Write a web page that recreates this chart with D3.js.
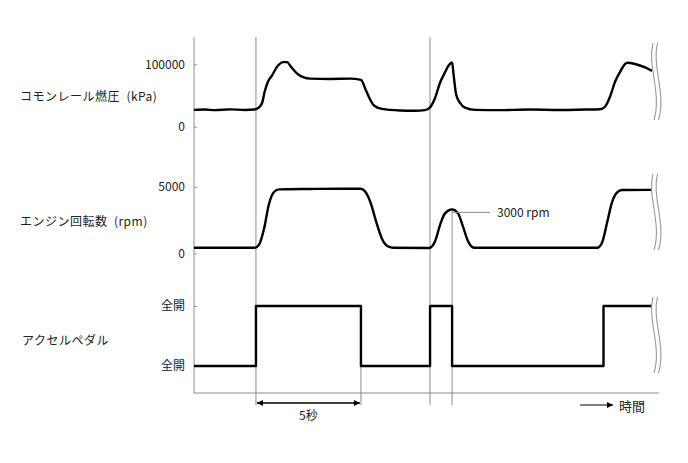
<!DOCTYPE html>
<html>
<head>
<meta charset="utf-8">
<script src="https://cdn.jsdelivr.net/npm/d3@7"></script>
<style>
  body { margin: 0; background: #fff; }
  text { font-family: "Noto Sans CJK JP", "Noto Sans", sans-serif; fill: #222; }
</style>
</head>
<body>
<svg id="chart" width="688" height="463"></svg>
<script>
"use strict";

// temps en secondes
var fuelT = [0, 0.52, 1.0, 1.71, 2.43, 2.86, 3.1, 3.24, 3.38, 3.52, 3.71, 4.0, 4.24, 4.43, 4.62, 4.95, 5.52, 6.48, 7.43, 7.95, 8.19, 8.38, 8.57, 8.95, 9.81, 10.52, 11.0, 11.24, 11.48, 11.71, 11.95, 12.14, 12.29, 12.36, 12.48, 12.67, 12.9, 13.38, 14.57, 16.0, 17.43, 18.62, 19.33, 19.57, 19.81, 20.05, 20.29, 20.62, 21.0, 21.48, 21.81];
var fuelV = [27000, 27500, 26500, 27800, 26800, 27500, 31000, 38000, 58000, 72000, 82000, 98000, 103500, 103500, 96000, 84000, 77000, 76500, 77000, 75000, 58000, 44000, 34000, 28500, 26000, 25500, 26500, 31000, 46000, 70000, 87000, 99000, 103000, 84000, 52000, 38000, 30500, 27000, 26500, 27500, 26800, 27500, 28000, 32000, 48000, 72000, 88000, 102500, 100500, 95000, 89500];

var rpmT = [0, 2.9, 3.1, 3.33, 3.57, 3.81, 4.05, 5.5, 7.0, 7.95, 8.14, 8.43, 8.67, 8.95, 9.24, 9.5, 11.2, 11.48, 11.71, 11.95, 12.29, 12.57, 12.81, 13.05, 13.33, 19.2, 19.43, 19.67, 19.9, 20.14, 20.38, 21.81];
var rpmV = [420, 420, 650, 1800, 3700, 4600, 4800, 4830, 4850, 4850, 4650, 3700, 2400, 1100, 520, 420, 400, 900, 2100, 3000, 3300, 3000, 2000, 900, 420, 420, 800, 2300, 3800, 4550, 4750, 4760];

var pedalT = [0, 2.95, 7.95, 11.24, 12.29, 19.5, 21.81];
var pedalV = [0, 100, 0, 100, 0, 100, 100];

var fuelTicks = [0, 100000];
var rpmTicks = [0, 5000];
var pedalTicks = [0, 100];
var pedalTickLabels = ["全開", "全開"];

var panelLabels = ["コモンレール燃圧 (kPa)", "エンジン回転数 (rpm)", "アクセルペダル"];
var peakLabel = "3000 rpm";
var spanLabel = "5秒";
var timeLabel = "時間";

// ---------------------------------------------------------------
var svg = d3.select("#chart");
var gray = "#8c8c8c";

var axisX = 194, axisTop = 37, axisBottom = 393;

var x = d3.scaleLinear().domain([0, 22]).range([194, 656]);
var yFuel = d3.scaleLinear().domain([0, 100000]).range([126.7, 64.3]);
var yRpm = d3.scaleLinear().domain([0, 5000]).range([253.3, 186.7]);
var yPedal = d3.scaleLinear().domain([0, 100]).range([366, 306]);

// lignes de repère
var guides = [
  { t: pedalT[1], top: axisTop },
  { t: pedalT[2], top: yPedal(0) },
  { t: pedalT[3], top: axisTop },
  { t: pedalT[4], top: yRpm(3300) }
];
svg.append("g").selectAll("line")
  .data(guides)
  .enter()
  .append("line")
    .attr("x1", function(d) { return x(d.t); })
    .attr("x2", function(d) { return x(d.t); })
    .attr("y1", function(d) { return d.top; })
    .attr("y2", 405)
    .attr("stroke", gray)
    .attr("stroke-width", 1);

// axe vertical et ligne du bas
svg.append("line")
  .attr("x1", axisX).attr("x2", axisX)
  .attr("y1", axisTop).attr("y2", axisBottom)
  .attr("stroke", gray);
svg.append("line")
  .attr("x1", axisX).attr("x2", 659)
  .attr("y1", axisBottom).attr("y2", axisBottom)
  .attr("stroke", gray);

function drawAxis(scale, ticks, fmt) {
  var g = svg.append("g")
    .attr("transform", "translate(" + axisX + ",0)")
    .call(d3.axisLeft(scale).tickValues(ticks).tickSize(3).tickPadding(6).tickFormat(fmt));
  g.select(".domain").remove();
  g.selectAll(".tick line").attr("x2", 3).attr("stroke", gray);
  g.selectAll(".tick text")
    .attr("font-size", 12)
    .attr("fill", "#222")
    .style("font-family", "'Noto Sans CJK JP', sans-serif");
}
drawAxis(yFuel, fuelTicks, d3.format("d"));
drawAxis(yRpm, rpmTicks, d3.format("d"));
drawAxis(yPedal, pedalTicks, function(d, i) { return pedalTickLabels[i]; });

// courbes
function drawSeries(ts, vs, yScale, curve) {
  var line = d3.line()
    .x(function(d) { return x(d[0]); })
    .y(function(d) { return yScale(d[1]); })
    .curve(curve);
  svg.append("path")
    .datum(ts.map(function(t, i) { return [t, vs[i]]; }))
    .attr("d", line)
    .attr("fill", "none")
    .attr("stroke", "#000")
    .attr("stroke-width", 2.4)
    .attr("stroke-linejoin", "round");
}
drawSeries(fuelT, fuelV, yFuel, d3.curveMonotoneX);
drawSeries(rpmT, rpmV, yRpm, d3.curveMonotoneX);
drawSeries(pedalT, pedalV, yPedal, d3.curveStepAfter);

// symboles de coupure
var breaks = [[43, 120], [174, 250], [297, 373]];
breaks.forEach(function(b) {
  [0, 4.5].forEach(function(dx) {
    var x0 = x(21.81) + 1 + dx, h = b[1] - b[0];
    svg.append("path")
      .attr("d", "M" + x0 + "," + b[0] +
        " C" + (x0 - 6) + "," + (b[0] + h * 0.3) + " " + (x0 + 9) + "," + (b[0] + h * 0.65) + " " + (x0 + 1) + "," + b[1])
      .attr("fill", "none")
      .attr("stroke", "#999")
      .attr("stroke-width", 1.1);
  });
});

// libellés des panneaux
var labelY = [yFuel(50000) + 1, yRpm(2400), yPedal(42)];
svg.append("g").selectAll("text")
  .data(panelLabels)
  .enter()
  .append("text")
    .attr("x", function(d, i) { return i === 2 ? 22 : 20; })
    .attr("y", function(d, i) { return labelY[i]; })
    .attr("dy", "0.35em")
    .attr("font-size", 12)
    .attr("letter-spacing", 0.5)
    .style("white-space", "pre")
    .text(function(d) { return d.replace(" (", "  ("); });

// annotation 3000 rpm
var peakY = yRpm(3300) + 3;
svg.append("line")
  .attr("x1", x(pedalT[4])).attr("x2", 490)
  .attr("y1", peakY).attr("y2", peakY)
  .attr("stroke", gray);
svg.append("text")
  .attr("x", 497).attr("y", peakY).attr("dy", "0.35em")
  .attr("font-size", 12)
  .text(peakLabel);

// flèches
var defs = svg.append("defs");
defs.append("marker")
  .attr("id", "head").attr("viewBox", "0 0 10 10")
  .attr("refX", 10).attr("refY", 5)
  .attr("markerWidth", 8).attr("markerHeight", 6)
  .attr("markerUnits", "userSpaceOnUse")
  .attr("orient", "auto-start-reverse")
  .append("path").attr("d", "M0,0 L10,5 L0,10 Z").attr("fill", "#000");

svg.append("line")
  .attr("x1", x(pedalT[1]) + 1).attr("x2", x(pedalT[2]) - 1)
  .attr("y1", 403).attr("y2", 403)
  .attr("stroke", "#000").attr("stroke-width", 1.5)
  .attr("marker-start", "url(#head)")
  .attr("marker-end", "url(#head)");
svg.append("text")
  .attr("x", (x(pedalT[1]) + x(pedalT[2])) / 2).attr("y", 416).attr("dy", "0.35em")
  .attr("text-anchor", "middle")
  .attr("font-size", 12)
  .text(spanLabel);

svg.append("line")
  .attr("x1", 580).attr("x2", 613)
  .attr("y1", 405).attr("y2", 405)
  .attr("stroke", "#000").attr("stroke-width", 1)
  .attr("marker-end", "url(#head)");
svg.append("text")
  .attr("x", 619).attr("y", 406).attr("dy", "0.35em")
  .attr("font-size", 13)
  .text(timeLabel);
</script>
</body>
</html>
